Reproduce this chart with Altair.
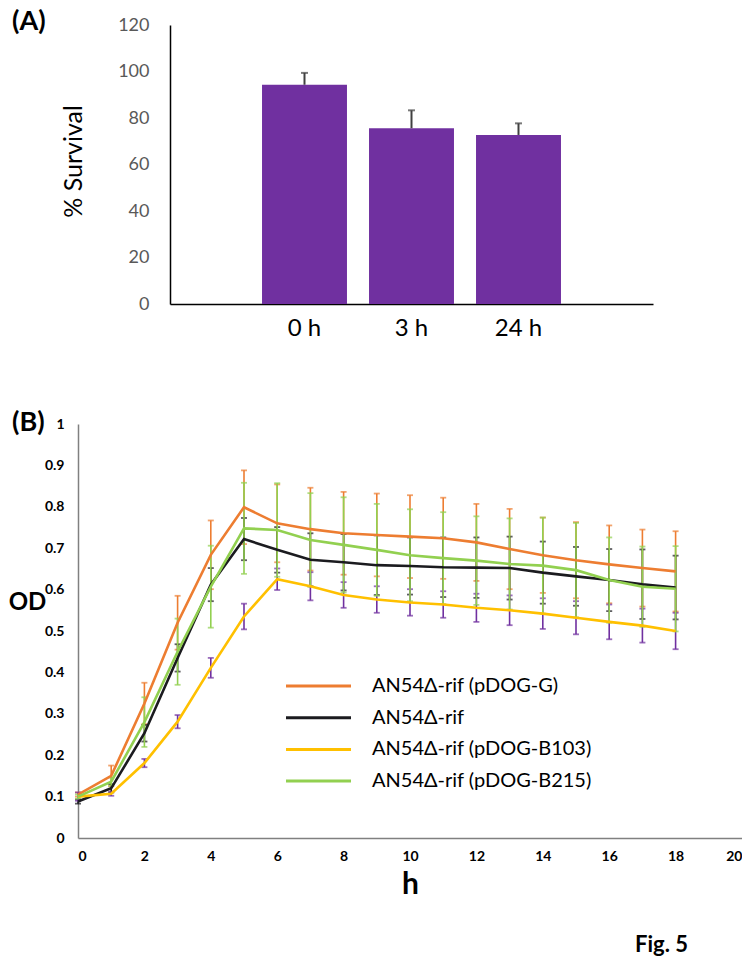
import altair as alt
import pandas as pd

FONT = "Lato"

# ---------------- Panel A data ----------------
times_a = ["0 h", "3 h", "24 h"]
survival = [94.3, 75.6, 72.7]
survival_err = [5.1, 7.7, 5.0]

# ---------------- Panel B data ----------------
hours = list(range(19))
series = ["AN54Δ-rif (pDOG-G)", "AN54Δ-rif", "AN54Δ-rif (pDOG-B103)", "AN54Δ-rif (pDOG-B215)"]
od_g = [0.105, 0.150, 0.325, 0.520, 0.684, 0.799, 0.760, 0.746, 0.736, 0.732, 0.728,
        0.724, 0.714, 0.698, 0.683, 0.671, 0.661, 0.652, 0.644]
err_g = [0.005, 0.025, 0.050, 0.065, 0.083, 0.089, 0.094, 0.100, 0.100, 0.100, 0.100,
         0.098, 0.093, 0.097, 0.091, 0.092, 0.094, 0.093, 0.097]
od_wt = [0.088, 0.120, 0.253, 0.435, 0.612, 0.722, 0.696, 0.672, 0.666, 0.659, 0.657,
         0.654, 0.653, 0.652, 0.641, 0.632, 0.623, 0.613, 0.605]
err_wt = [0.005, 0.010, 0.020, 0.033, 0.040, 0.051, 0.055, 0.064, 0.068, 0.072, 0.069,
          0.072, 0.073, 0.076, 0.075, 0.071, 0.075, 0.084, 0.077]
od_b103 = [0.100, 0.107, 0.181, 0.281, 0.411, 0.535, 0.625, 0.608, 0.587, 0.576, 0.569,
           0.564, 0.556, 0.550, 0.542, 0.532, 0.522, 0.513, 0.500]
err_b103 = [0.010, 0.005, 0.010, 0.016, 0.024, 0.031, 0.026, 0.034, 0.031, 0.032, 0.032,
            0.032, 0.034, 0.036, 0.037, 0.040, 0.042, 0.041, 0.044]
od_b215 = [0.100, 0.136, 0.280, 0.450, 0.607, 0.748, 0.744, 0.720, 0.708, 0.696, 0.683,
           0.676, 0.670, 0.662, 0.658, 0.647, 0.623, 0.607, 0.602]
err_b215 = [0.005, 0.010, 0.060, 0.080, 0.099, 0.110, 0.113, 0.113, 0.115, 0.111, 0.111,
            0.111, 0.107, 0.110, 0.116, 0.114, 0.103, 0.097, 0.103]

line_colors = ["#ED7D31", "#1B1B1F", "#FFC000", "#92D050"]
err_colors = ["#ED7D31", "#1B1B1F", "#7030A0", "#92D050"]

y_ticks_a = [0, 20, 40, 60, 80, 100, 120]
y_ticks_b = [0, 0.1, 0.2, 0.3, 0.4, 0.5, 0.6, 0.7, 0.8, 0.9, 1]
x_ticks_b = [0, 2, 4, 6, 8, 10, 12, 14, 16, 18, 20]

no_frame = alt.ViewBackground(stroke="transparent", strokeWidth=0)

# ---------------- Panel A ----------------
dfa = pd.DataFrame({"t": times_a, "s": survival, "e": survival_err})

xa_scale = alt.Scale(domain=times_a, paddingInner=0.206, paddingOuter=0.86, range=[92, 575])
xa = alt.X("t:N", sort=times_a, scale=xa_scale,
           axis=alt.Axis(title=None, labelAngle=0, labelFontSize=24, labelFont=FONT,
                         labelColor="#000000", labelPadding=12, ticks=False,
                         domainColor="#000000", domainWidth=1.5))
ya = alt.Y("s:Q", scale=alt.Scale(domain=[0, 120], nice=False),
           axis=alt.Axis(values=y_ticks_a, grid=False, ticks=False, labelFontSize=18,
                         labelFont=FONT, labelColor="#595959", labelPadding=21,
                         domainColor="#000000", domainWidth=1.5, offset=-92,
                         title="% Survival", titleFont=FONT, titleFontSize=25,
                         titleFontWeight="normal", titleColor="#000000",
                         titleX=-97, titleY=136, titleAlign="center",
                         titleBaseline="middle"))

base_a = alt.Chart(dfa).transform_calculate(hi="datum.s + datum.e")
bars = base_a.mark_bar(color="#7030A0").encode(x=xa, y=ya)
err_rule_a = base_a.mark_rule(color="#404040", strokeWidth=2).encode(
    x=alt.X("t:N", sort=times_a, scale=xa_scale), y="s:Q", y2="hi:Q")
err_cap_a = base_a.mark_tick(color="#404040", orient="horizontal", size=7, thickness=2).encode(
    x=alt.X("t:N", sort=times_a, scale=xa_scale), y="hi:Q")
label_a = alt.Chart(pd.DataFrame({"lab": ["(A)"]})).mark_text(
    align="left", baseline="top", fontSize=27, fontWeight="bold", font=FONT, color="#000000"
).encode(text="lab:N", x=alt.value(-66), y=alt.value(-16))

panel_a = alt.layer(bars, err_rule_a, err_cap_a, label_a).properties(
    width=575, height=279, view=no_frame)

# ---------------- Panel B ----------------
od_all = [od_g, od_wt, od_b103, od_b215]
err_all = [err_g, err_wt, err_b103, err_b215]
rows = []
for name, ods, errs in zip(series, od_all, err_all):
    for h, v, e in zip(hours, ods, errs):
        rows.append({"h": h, "series": name, "od": v, "err": e})
dfb = pd.DataFrame(rows)

xb_scale = alt.Scale(domain=[0, 20], nice=False)
yb_scale = alt.Scale(domain=[0, 1], nice=False)

xb = alt.X("h:Q", scale=xb_scale,
           axis=alt.Axis(values=x_ticks_b, grid=False, ticks=False, labelFontSize=14,
                         labelFont=FONT, labelFontWeight="bold", labelColor="#000000",
                         labelPadding=11, labelFlush=True, domainColor="#808080",
                         domainWidth=1.5, title="h", titleFont=FONT, titleFontSize=30,
                         titleFontWeight="bold", titleColor="#000000", titleX=332,
                         titleY=46, titleAlign="center", titleBaseline="middle"))
yb = alt.Y("od:Q", scale=yb_scale,
           axis=alt.Axis(values=y_ticks_b, format="~g", grid=False, ticks=False,
                         labelFontSize=14, labelFont=FONT, labelFontWeight="bold",
                         labelColor="#000000", labelPadding=14, domainColor="#808080",
                         domainWidth=1.5, title="OD", titleFont=FONT, titleFontSize=24,
                         titleFontWeight="bold", titleColor="#000000", titleAngle=0,
                         titleX=-51, titleY=178, titleAlign="center",
                         titleBaseline="middle"))

base_b = alt.Chart(dfb).transform_calculate(lo="datum.od - datum.err",
                                            hi="datum.od + datum.err")
layers_b = []
for name, ec in zip(series, err_colors):
    sub = base_b.transform_filter(alt.datum.series == name)
    layers_b.append(sub.mark_rule(color=ec, strokeWidth=1.6).encode(
        x=alt.X("h:Q", scale=xb_scale), y=alt.Y("lo:Q", scale=yb_scale), y2="hi:Q"))
    layers_b.append(sub.mark_tick(color=ec, orient="horizontal", size=6, thickness=1.8).encode(
        x=alt.X("h:Q", scale=xb_scale), y=alt.Y("lo:Q", scale=yb_scale)))
    layers_b.append(sub.mark_tick(color=ec, orient="horizontal", size=6, thickness=1.8).encode(
        x=alt.X("h:Q", scale=xb_scale), y=alt.Y("hi:Q", scale=yb_scale)))

lines = base_b.mark_line(strokeWidth=2.6).encode(
    x=xb, y=yb,
    color=alt.Color("series:N", sort=series,
                    scale=alt.Scale(domain=series, range=line_colors), legend=None),
    order=alt.Order("h:Q"))

# hand-drawn legend (inside the plot, as in the original)
legend_layers = []
for i, (name, lc) in enumerate(zip(series, line_colors)):
    ldf = pd.DataFrame({"series": [name]})
    ypix = 262 + 31.7 * i
    legend_layers.append(alt.Chart(ldf).mark_rule(color=lc, strokeWidth=3).encode(
        x=alt.value(208), x2=alt.value(273), y=alt.value(ypix)))
    legend_layers.append(alt.Chart(ldf).mark_text(
        align="left", baseline="middle", fontSize=20, font=FONT, color="#000000"
    ).encode(text="series:N", x=alt.value(294), y=alt.value(ypix)))

label_b = alt.Chart(pd.DataFrame({"lab": ["(B)"]})).mark_text(
    align="left", baseline="top", fontSize=27, fontWeight="bold", font=FONT, color="#000000"
).encode(text="lab:N", x=alt.value(-66), y=alt.value(-14))
fig_label = alt.Chart(pd.DataFrame({"lab": ["Fig. 5"]})).mark_text(
    align="left", baseline="middle", fontSize=22, fontWeight="bold", font=FONT, color="#000000"
).encode(text="lab:N", x=alt.value(557), y=alt.value(521))

panel_b = alt.layer(*layers_b, lines, *legend_layers, label_b, fig_label).properties(
    width=664, height=414, view=no_frame)

chart = (alt.vconcat(panel_a, panel_b, spacing=69)
         .properties(padding=0)
         .configure_view(strokeWidth=0, stroke="transparent")
         .configure(font=FONT))

chart.save("out.html", embed_options={"renderer": "svg", "actions": False})
